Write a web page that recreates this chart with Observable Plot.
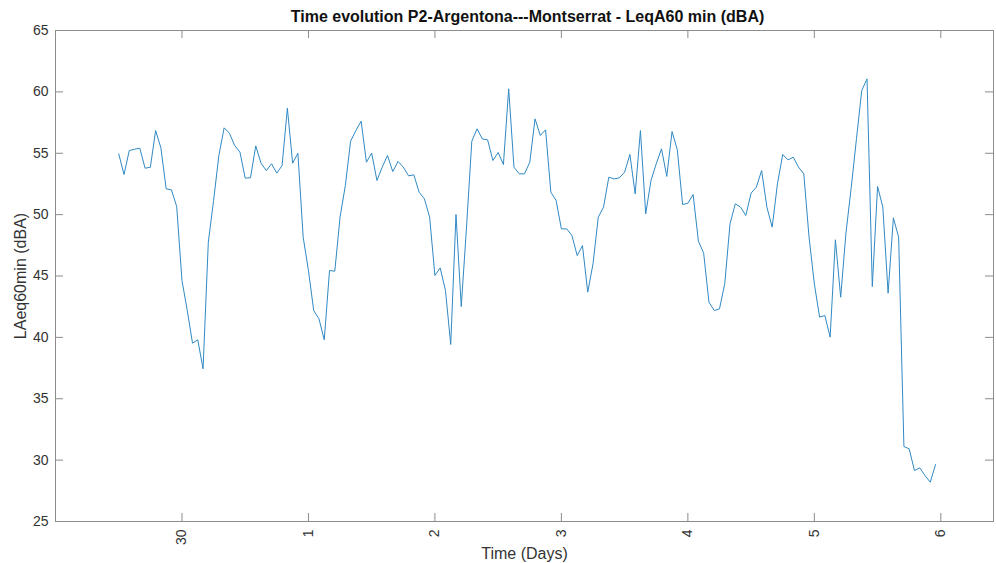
<!DOCTYPE html>
<html><head><meta charset="utf-8">
<script src="https://cdn.jsdelivr.net/npm/d3@7"></script>
<script src="https://cdn.jsdelivr.net/npm/@observablehq/plot@0.6"></script>
<style>
body{margin:0;background:#fff}
svg{font-family:"Liberation Sans",Arial,Helvetica,sans-serif}
</style>
</head><body><div id="chart"></div>
<script>
const title = "Time evolution P2-Argentona---Montserrat - LeqA60 min (dBA)";
const yLabel = "LAeq60min (dBA)";
const xLabel = "Time (Days)";
// hourly samples, first one at hour -12 relative to 30 Nov 00:00
const startHour = -12;
const laeq = [
  54.95, 53.27, 55.22, 55.33, 55.41, 53.78, 53.86, 56.85, 55.44, 52.10, 52.02, 50.66,
  44.63, 42.20, 39.53, 39.80, 37.44, 47.76, 51.15, 54.82, 57.07, 56.63, 55.63, 55.09,
  52.97, 53.00, 55.60, 54.19, 53.59, 54.14, 53.38, 54.00, 58.67, 54.19, 55.00, 48.16,
  45.45, 42.19, 41.51, 39.80, 45.45, 45.39, 49.79, 52.37, 55.98, 56.85, 57.61, 54.27,
  55.01, 52.78, 53.87, 54.82, 53.51, 54.33, 53.87, 53.16, 53.24, 51.83, 51.29, 49.79,
  45.04, 45.66, 43.82, 39.42, 50.01, 42.51, 49.00, 55.98, 56.99, 56.17, 56.09, 54.41,
  55.06, 54.08, 60.25, 53.87, 53.32, 53.32, 54.27, 57.80, 56.45, 56.91, 51.83, 51.15,
  48.84, 48.84, 48.30, 46.67, 47.48, 43.68, 45.99, 49.79, 50.61, 53.05, 52.91, 53.00,
  53.46, 54.90, 51.69, 56.85, 50.06, 52.78, 54.14, 55.36, 53.11, 56.77, 55.28, 50.82,
  50.93, 51.64, 47.84, 46.86, 42.87, 42.19, 42.32, 44.36, 49.25, 50.88, 50.61, 49.93,
  51.75, 52.24, 53.59, 50.61, 48.98, 52.51, 54.90, 54.46, 54.68, 53.87, 53.32, 48.16,
  44.36, 41.65, 41.78, 40.02, 47.95, 43.27, 48.50, 52.20, 56.20, 60.11, 61.06, 44.14,
  52.29, 50.61, 43.60, 49.74, 48.16, 31.11, 30.92, 29.15, 29.37, 28.75, 28.20, 29.64
];
const xTickHours = [0, 24, 48, 72, 96, 120, 144];
const xTickLabels = ["30", "1", "2", "3", "4", "5", "6"];
const yTicks = [25, 30, 35, 40, 45, 50, 55, 60, 65];
const xDomain = [-24, 154];
const yDomain = [25, 65];

const W = 996, H = 563, mT = 30, mB = 42, mL = 55, mR = 3;
const frameW = W - mL - mR, frameH = H - mT - mB, tickLen = 8;

const data = laeq.map((v, i) => ({hour: startHour + i, value: v}));
const xFmt = (h) => xTickLabels[xTickHours.indexOf(h)];
const axisColor = "#8c8c8c";
const textColor = "#333333";

const chart = Plot.plot({
  width: W,
  height: H,
  marginTop: mT,
  marginBottom: mB,
  marginLeft: mL,
  marginRight: mR,
  style: {fontFamily: '"Liberation Sans", Arial, sans-serif', fontSize: "14px", color: textColor, background: "#fff"},
  x: {domain: xDomain},
  y: {domain: yDomain},
  marks: [
    Plot.line(data, {x: "hour", y: "value", stroke: "#3089c4", strokeWidth: 1}),
    Plot.frame({stroke: axisColor}),
    // tick labels and axis titles
    Plot.axisY(yTicks, {anchor: "left", tickSize: 0, tickPadding: 7, fontSize: 14, label: null}),
    Plot.axisX(xTickHours, {anchor: "bottom", tickSize: 0, tickPadding: 8, tickRotate: -90, tickFormat: xFmt, fontSize: 14, label: null}),
    Plot.axisY(yTicks, {anchor: "left", tickSize: 0, tickFormat: () => "", fontSize: 16, label: yLabel, labelAnchor: "center", labelOffset: 41, labelArrow: "none"}),
    Plot.axisX(xTickHours, {anchor: "bottom", tickSize: 0, tickFormat: () => "", fontSize: 16, label: xLabel, labelAnchor: "center", labelOffset: 37, labelArrow: "none"}),
    // inward tick marks on all four sides
    Plot.tickY(yTicks, {y: d => d, stroke: axisColor, insetRight: frameW - tickLen}),
    Plot.tickY(yTicks, {y: d => d, stroke: axisColor, insetLeft: frameW - tickLen}),
    Plot.tickX(xTickHours, {x: d => d, stroke: axisColor, insetTop: frameH - tickLen}),
    Plot.tickX(xTickHours, {x: d => d, stroke: axisColor, insetBottom: frameH - tickLen}),
    Plot.text([title], {frameAnchor: "top", dx: 3, dy: -20, fontWeight: "bold", fontSize: 16, fill: "#111"})
  ]
});
document.getElementById("chart").appendChild(chart);
</script>
</body></html>
